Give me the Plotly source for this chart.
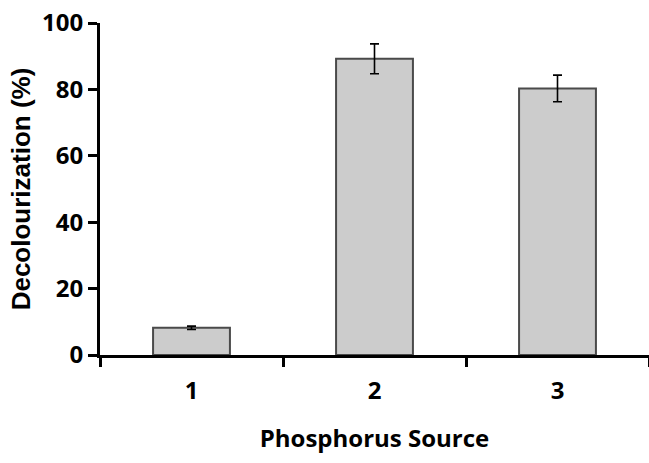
import plotly.graph_objects as go

categories = ["1", "2", "3"]
values = [8.2, 89.2, 80.3]
errors = [0.5, 4.5, 4.0]
y_ticks = [0, 20, 40, 60, 80, 100]

narrow = "Open Sans, Roboto, sans-serif"

fig = go.Figure()
fig.add_trace(go.Bar(
    x=categories, y=values, width=0.42,
    marker=dict(color="#cccccc", line=dict(color="#4a4a4a", width=2)),
    error_y=dict(type="data", array=errors, visible=True, color="black",
                 thickness=1.6, width=4.5),
))

tick_font = dict(family=narrow, size=24, color="black", weight="bold")

fig.update_layout(
    width=649, height=463,
    margin=dict(l=100, r=0, t=23, b=108),
    plot_bgcolor="white", paper_bgcolor="white",
    showlegend=False,
    xaxis=dict(
        type="category", tickson="boundaries", automargin=False,
        showline=True, linecolor="black", linewidth=3,
        ticks="outside", ticklen=9, tickwidth=2.5, tickcolor="black",
        tickfont=tick_font,
        ticklabelstandoff=12,
        title=dict(text="Phosphorus Source",
                   font=dict(family=narrow, size=24, color="black", weight="bold"),
                   standoff=26),
        showgrid=False, zeroline=False,
    ),
    yaxis=dict(
        range=[0, 100], tickvals=y_ticks, automargin=False,
        showline=True, linecolor="black", linewidth=3,
        ticks="outside", ticklen=9, tickwidth=2.5, tickcolor="black",
        tickfont=tick_font, ticksuffix="\u2002",
        title=dict(text="Decolourization (%)",
                   font=dict(family="Liberation Sans, Arial, sans-serif", size=26,
                             color="black", weight="bold"),
                   standoff=4),
        showgrid=False, zeroline=False,
    ),
)

fig.write_html("out.html")
